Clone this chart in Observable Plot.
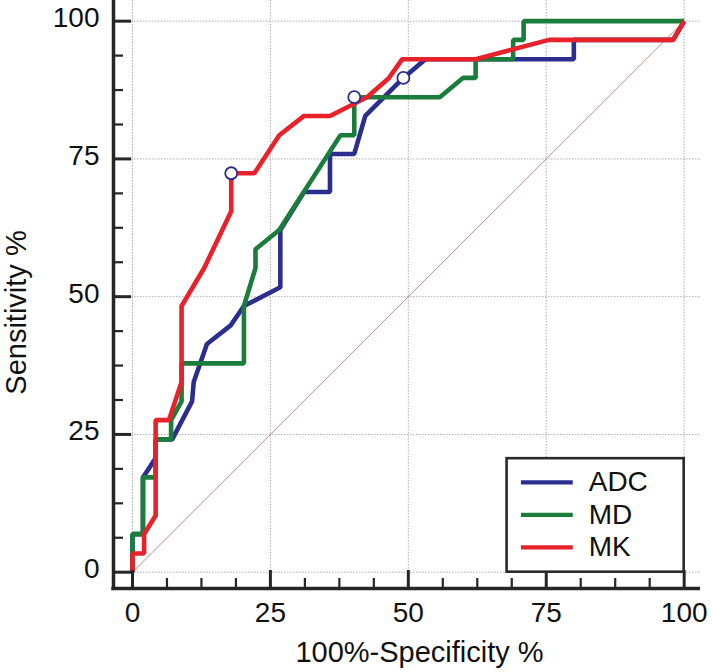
<!DOCTYPE html>
<html>
<head>
<meta charset="utf-8">
<script src="https://cdn.jsdelivr.net/npm/d3@7"></script>
<script src="https://cdn.jsdelivr.net/npm/@observablehq/plot@0.6"></script>
<style>
  html, body { margin: 0; padding: 0; background: #ffffff; }
  #chart svg { display: block; }
</style>
</head>
<body>
<div id="chart"></div>
<script>
// ---- Data ----
const seriesNames = ["ADC", "MD", "MK"];
const seriesColors = ["#2b2e8e", "#1a7d3c", "#e8212a"];

const adcX = [0, 0, 1.9, 1.9, 4.2, 4.2, 7.2, 10.8, 11.1, 13.5, 17.8, 20.2, 26.8, 26.8, 31.1, 35.8, 35.8, 40.2, 42.2, 49.1, 53.1, 80, 80, 98, 100];
const adcY = [0, 6.9, 6.9, 17.2, 20.7, 24.1, 24.1, 31.0, 34.5, 41.4, 44.8, 48.3, 51.7, 62.1, 69.0, 69.0, 75.9, 75.9, 82.8, 89.7, 93.1, 93.1, 96.6, 96.6, 100];

const mdX = [0, 0, 1.9, 1.9, 4.2, 4.2, 7.0, 7.0, 8.9, 8.9, 20.2, 20.2, 22.3, 22.3, 26.6, 37.7, 40.2, 40.2, 55.7, 59.9, 62.2, 62.2, 69.0, 69.0, 70.9, 70.9, 100];
const mdY = [0, 6.9, 6.9, 17.2, 17.2, 24.1, 24.1, 27.6, 31.0, 37.9, 37.9, 48.3, 55.2, 58.6, 62.1, 79.3, 79.3, 86.2, 86.2, 89.7, 89.7, 93.1, 93.1, 96.6, 96.6, 100, 100];

const mkX = [0, 0, 2.1, 2.1, 4.2, 4.2, 6.6, 8.9, 8.9, 13.0, 17.9, 17.9, 22.1, 26.6, 31.1, 35.8, 42.5, 46.5, 48.9, 62.2, 75.5, 98, 100];
const mkY = [0, 3.4, 3.4, 6.9, 10.3, 27.6, 27.6, 34.5, 48.3, 55.2, 65.5, 72.4, 72.4, 79.3, 82.8, 82.8, 86.2, 89.7, 93.1, 93.1, 96.6, 96.6, 100];

// criterion points (open circles)
const markerX = [17.9, 40.2, 49.1];
const markerY = [72.4, 86.2, 89.7];

const diagX = [0, 100];
const diagY = [0, 100];

const majorTicks = [0, 25, 50, 75, 100];
const minorTicks = [6.25, 12.5, 18.75, 31.25, 37.5, 43.75, 56.25, 62.5, 68.75, 81.25, 87.5, 93.75];

const xTitle = "100%-Specificity %";
const yTitle = "Sensitivity %";

// ---- Build tables ----
const xs = [adcX, mdX, mkX];
const ys = [adcY, mdY, mkY];
const lines = seriesNames.flatMap((name, i) =>
  xs[i].map((x, j) => ({series: name, x, y: ys[i][j]})));
const markers = markerX.map((x, i) => ({x, y: markerY[i]}));
const diag = diagX.map((x, i) => ({x, y: diagY[i]}));

// ---- Layout ----
const W = 712, H = 672;
const mL = 113, mR = 12, mT = 0, mB = 84;
const xDom = [-3.44, 102.96];
const yDom = [-2.96, 103.75];
const kx = (W - mL - mR) / (xDom[1] - xDom[0]); // px per unit
const ky = (H - mT - mB) / (yDom[1] - yDom[0]);
const xMin = xDom[0], yMin = yDom[0];
const majorLen = 18, minorLen = 10;
const axisColor = "#262626";
const font = "'Liberation Sans', Arial, Helvetica, sans-serif";

// legend layout (in data units)
const legBox = {x1: 67.9, x2: 100, y1: 0, y2: 20.6};
const legLineX = [70.5, 79.9];
const legTextX = 82.7;
const legRowY = [16.3, 10.4, 4.5];
const legend = seriesNames.map((name, i) => ({name, color: seriesColors[i], y: legRowY[i]}));

const chart = Plot.plot({
  width: W,
  height: H,
  marginLeft: mL,
  marginRight: mR,
  marginTop: mT,
  marginBottom: mB,
  style: {fontFamily: font, background: "#ffffff", color: "#111"},
  x: {domain: xDom, axis: null},
  y: {domain: yDom, axis: null},
  color: {domain: seriesNames, range: seriesColors},
  marks: [
    // grid
    Plot.gridX(majorTicks, {stroke: "#9a9a9a", strokeOpacity: 0.8, strokeWidth: 1, strokeDasharray: "1.5,1.5"}),
    Plot.gridY(majorTicks, {stroke: "#9a9a9a", strokeOpacity: 0.8, strokeWidth: 1, strokeDasharray: "1.5,1.5"}),
    // diagonal
    Plot.line(diag, {x: "x", y: "y", stroke: "#c48a7c", strokeWidth: 1}),
    // ROC curves
    Plot.line(lines, {x: "x", y: "y", z: "series", stroke: "series", strokeWidth: 4.6, strokeLinejoin: "miter", strokeLinecap: "butt"}),
    // criterion markers
    Plot.dot(markers, {x: "x", y: "y", r: 6, fill: "white", stroke: "#2b2e8e", strokeWidth: 1.8}),
    // axis lines
    Plot.ruleX([xMin], {stroke: axisColor, strokeWidth: 3.5}),
    Plot.ruleY([yMin], {stroke: axisColor, strokeWidth: 3.5, x1: xMin - 1.75 / kx, x2: xDom[1]}),
    // ticks x (inward, upward)
    Plot.ruleX(majorTicks, {x: d => d, y1: yMin, y2: yMin + majorLen / ky, stroke: axisColor, strokeWidth: 3}),
    Plot.ruleX(minorTicks, {x: d => d, y1: yMin, y2: yMin + minorLen / ky, stroke: axisColor, strokeWidth: 2.2}),
    // ticks y (inward, rightward)
    Plot.ruleY(majorTicks, {y: d => d, x1: xMin, x2: xMin + majorLen / kx, stroke: axisColor, strokeWidth: 3}),
    Plot.ruleY(minorTicks, {y: d => d, x1: xMin, x2: xMin + minorLen / kx, stroke: axisColor, strokeWidth: 2.2}),
    // tick labels
    Plot.text(majorTicks, {x: d => d, y: yMin, text: d => String(d), dy: 25, fontSize: 28, fill: "#111"}),
    Plot.text(majorTicks, {x: xMin, y: d => d, text: d => String(d), textAnchor: "end", dx: -14, dy: -3, fontSize: 28, fill: "#111"}),
    // axis titles
    Plot.text([xTitle], {frameAnchor: "bottom", textAnchor: "middle", text: d => d, dx: 12.5, dy: 73, fontSize: 29, fill: "#111"}),
    Plot.text([yTitle], {frameAnchor: "left", textAnchor: "middle", text: d => d, rotate: -90, dx: -97, dy: 18, fontSize: 29, fill: "#111"}),
    // legend
    Plot.rect([legBox], {x1: "x1", x2: "x2", y1: "y1", y2: "y2", fill: "white", stroke: "#2a2a2a", strokeWidth: 2.6}),
    Plot.ruleY(legend, {y: "y", x1: legLineX[0], x2: legLineX[1], stroke: "color", strokeWidth: 4.4}),
    Plot.text(legend, {x: legTextX, y: "y", text: "name", textAnchor: "start", fontSize: 28, fill: "#111"})
  ]
});

document.getElementById("chart").appendChild(chart);
</script>
</body>
</html>
